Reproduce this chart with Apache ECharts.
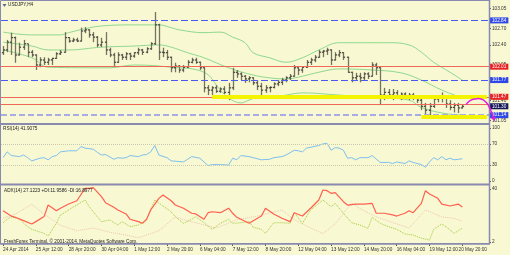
<!DOCTYPE html>
<html>
<head>
<meta charset="utf-8">
<script src="https://cdn.jsdelivr.net/npm/echarts@6.0.0/dist/echarts.min.js"></script>
<style>
html,body{margin:0;padding:0;background:#f8f8d2;}
#chart{width:510px;height:255px;}
</style>
</head>
<body>
<div id="chart"></div>
<script>
// ---------- data ----------
const opens = [102.26,102.31,102.45,102.53,102.22,102.36,102.42,102.27,102.22,102.04,
102.13,102.09,102.13,102.16,102.24,102.27,102.53,102.47,102.49,102.47,
102.65,102.67,102.58,102.54,102.40,102.45,102.31,102.22,102.09,102.22,
102.18,102.24,102.20,102.26,102.31,102.27,102.33,102.42,102.76,102.27,
102.26,102.18,101.99,102.02,101.95,102.00,102.09,102.13,102.09,101.99,
101.63,101.59,101.63,101.57,101.61,101.55,101.63,101.91,101.88,101.84,
101.79,101.81,101.72,101.66,101.59,101.63,101.64,101.70,101.73,101.77,
101.81,101.84,101.99,101.95,102.00,102.09,102.13,102.18,102.27,102.29,
102.31,102.13,102.22,102.26,102.18,101.91,101.81,101.84,101.81,101.88,
101.84,102.04,101.99,101.50,101.55,101.50,101.54,101.48,101.52,101.48,
101.50,101.46,101.41,101.30,101.23,101.30,101.43,101.45,101.46,101.34,
101.28,101.32,101.27];
const highs = [102.38,102.49,102.62,102.55,102.44,102.49,102.42,102.31,102.23,102.18,
102.18,102.17,102.17,102.27,102.31,102.63,102.54,102.53,102.53,102.71,
102.72,102.68,102.63,102.56,102.53,102.63,102.35,102.26,102.27,102.24,
102.27,102.26,102.27,102.35,102.33,102.36,102.45,102.99,102.78,102.35,
102.31,102.19,102.08,102.04,102.04,102.13,102.17,102.17,102.10,102.00,
101.68,101.66,101.68,101.64,101.66,101.72,101.99,101.95,101.91,101.86,
101.84,101.82,101.77,101.72,101.68,101.66,101.73,101.77,101.81,101.84,
101.88,102.04,102.00,102.02,102.13,102.17,102.22,102.31,102.31,102.35,
102.32,102.27,102.31,102.27,102.19,101.92,101.90,101.90,101.91,101.91,
102.09,102.08,102.00,101.63,101.61,101.61,101.59,101.55,101.55,101.54,
101.54,101.50,101.45,101.36,101.36,101.46,101.48,101.55,101.47,101.41,
101.36,101.36,101.34];
const lows = [102.22,102.27,102.22,102.08,102.21,102.31,102.18,102.18,101.95,102.00,
102.04,102.04,102.04,102.15,102.22,102.26,102.44,102.45,102.45,102.46,
102.61,102.53,102.45,102.36,102.36,102.22,102.18,102.02,102.08,102.13,
102.13,102.13,102.17,102.22,102.22,102.25,102.31,102.40,102.13,102.18,
102.13,101.91,101.91,101.90,101.91,101.99,102.07,102.06,101.95,101.55,
101.50,101.50,101.54,101.54,101.52,101.41,101.59,101.81,101.77,101.72,
101.73,101.68,101.59,101.45,101.54,101.55,101.62,101.66,101.68,101.73,
101.77,101.83,101.86,101.90,101.99,102.04,102.09,102.17,102.18,102.22,
102.04,102.12,102.18,102.13,101.90,101.73,101.77,101.73,101.77,101.79,
101.83,101.86,101.32,101.41,101.45,101.41,101.43,101.41,101.43,101.41,
101.41,101.36,101.23,101.11,101.14,101.27,101.37,101.37,101.27,101.23,
101.19,101.18,101.26];
const closes = [102.31,102.45,102.53,102.22,102.36,102.42,102.27,102.22,102.04,102.13,
102.09,102.13,102.16,102.24,102.27,102.53,102.47,102.49,102.47,102.65,
102.67,102.58,102.54,102.40,102.45,102.31,102.22,102.09,102.22,102.18,
102.24,102.20,102.26,102.31,102.27,102.33,102.42,102.76,102.27,102.26,
102.18,101.99,102.02,101.95,102.00,102.09,102.13,102.09,101.99,101.63,
101.59,101.63,101.57,101.61,101.55,101.63,101.91,101.88,101.84,101.79,
101.81,101.72,101.66,101.59,101.63,101.64,101.70,101.73,101.77,101.81,
101.84,101.99,101.95,102.00,102.09,102.13,102.18,102.27,102.29,102.31,
102.13,102.22,102.26,102.18,101.91,101.81,101.84,101.81,101.88,101.84,
102.04,101.99,101.50,101.55,101.50,101.54,101.48,101.52,101.48,101.50,
101.46,101.41,101.30,101.23,101.30,101.43,101.45,101.46,101.34,101.28,
101.32,101.27,101.30];

// Bollinger bands: [bar index, price] read at visible vertices
const upperBand = [[0,102.63],[7,102.58],[14,102.58],[16,102.62],[20,102.69],[24,102.74],[32,102.76],[38,102.76],[41,102.71],[43,102.67],[49,102.62],[53,102.63],[56,102.54],[59,102.44],[61,102.26],[65,102.17],[69,102.09],[73,102.17],[77,102.31],[82,102.44],[90,102.44],[94,102.44],[99,102.40],[102,102.27],[105,102.09],[109,101.91],[112,101.77]];
const middleBand = [[0,102.45],[7,102.38],[11,102.31],[16,102.31],[24,102.36],[32,102.38],[38,102.40],[41,102.36],[45,102.26],[49,102.17],[55,101.99],[61,101.86],[65,101.81],[69,101.79],[73,101.84],[77,101.91],[82,101.97],[90,101.95],[97,101.90],[102,101.77],[107,101.59],[112,101.45]];
const lowerBand = [[0,102.31],[7,102.17],[11,102.00],[26,101.99],[32,102.04],[41,102.00],[49,101.91],[53,101.59],[55,101.45],[58,101.36],[60,101.41],[62,101.46],[65,101.45],[69,101.50],[73,101.54],[82,101.50],[90,101.46],[99,101.41],[102,101.28],[107,101.18],[112,101.14]];

const rsi = [[0,44],[1,55],[2,48],[4,46],[5,49],[6,44],[7,38],[9,43],[10,44],[11,40],[12,46],[13,48],[14,55],[16,57],[18,57],[19,65],[20,62],[22,60],[23,54],[24,49],[25,50],[27,41],[28,44],[29,43],[30,44],[31,48],[33,46],[34,49],[35,50],[36,55],[37,67],[38,49],[40,44],[41,38],[44,36],[46,46],[48,43],[50,29],[51,31],[53,31],[55,30],[56,43],[57,40],[58,48],[60,46],[61,44],[63,40],[65,41],[66,44],[68,46],[69,49],[71,58],[72,57],[73,55],[74,62],[77,67],[78,70],[79,71],[80,58],[81,63],[82,62],[83,58],[84,43],[85,44],[86,40],[87,44],[89,44],[90,48],[92,35],[94,35],[95,33],[96,36],[98,33],[99,38],[100,35],[102,31],[103,26],[104,36],[105,44],[106,40],[107,46],[108,40],[109,43],[110,40],[111,41],[112,41.9075]];
const adx = [[0,24.4],[2,20.6],[3,19.7],[5,17.3],[7,14.9],[8,16.6],[10,20.2],[11,28.5],[13,24.4],[14,26.2],[16,29.2],[18,31.6],[20,40.5],[21,40.5],[22,41],[24,34.5],[25,30.2],[27,26.9],[28,25],[30,22.1],[31,18.3],[33,16.6],[34,15.4],[35,18.3],[36,25],[38,33.3],[39,35.7],[41,31.6],[42,28.5],[44,26.2],[46,22.6],[47,22.1],[49,18.3],[50,23],[51,23.7],[53,23],[55,26.2],[56,22.6],[57,19.7],[60,15.4],[61,17.3],[63,20.6],[64,26.2],[66,22.1],[68,19],[70,16.6],[71,23],[73,20.6],[75,26.2],[77,32.1],[78,39.3],[79,38.8],[80,36.9],[81,37.4],[83,30.9],[84,28.5],[86,29.2],[88,29.2],[90,29.7],[91,22.6],[93,22.6],[95,21.4],[96,20.6],[98,22.6],[99,24.4],[100,23],[102,29.7],[103,38.8],[104,36.4],[106,33.3],[107,29.2],[109,27.8],[111,29.2],[112,27.1223]];
const plusDI = [[0,15.8],[1,18.3],[2,20.1],[4,18.3],[6,13],[7,11.1],[10,8.2],[11,6.3],[13,15.4],[14,21.4],[15,23],[17,26.9],[18,28.5],[20,32.1],[21,27.3],[23,20.1],[24,16.6],[26,17.8],[28,14.2],[29,16.6],[31,13],[33,14.2],[35,17.8],[36,25],[37,32.1],[39,27.8],[41,23.7],[42,20.1],[44,15.4],[46,18.3],[47,20.1],[49,15.8],[51,11.1],[53,15.4],[55,18.3],[56,15.4],[58,15.8],[60,16.6],[61,12.5],[63,11.1],[64,8.2],[66,15.8],[68,15.8],[70,15.4],[71,23],[73,15.4],[75,25],[77,29.7],[78,32.1],[80,27.3],[81,29.7],[83,22.6],[85,15.8],[87,14.2],[89,11.8],[90,19.7],[92,15.4],[94,13],[96,11.1],[98,7.7],[100,7],[102,4.7],[104,3.4],[105,11.1],[107,14.9],[108,13],[110,8.2],[112,11.9586]];
const minusDI = [[0,19],[3,22],[7,29],[10,22],[14,14],[18,10],[22,12],[26,9],[30,7],[33,5],[38,10],[42,20],[44,18],[48,15],[52,12],[57,18],[61,20],[64,22],[68,25],[71,18],[75,12],[78,8],[81,15],[85,30],[87,26],[91,20],[96,15],[99,12],[103,25],[107,20],[110,19],[112,16.8977]];

const tickIdx = [0,8,16,24,32,40,48,56,64,72,80,88,96,104,112];
const tickLabels = ['24 Apr 2014','25 Apr 12:00','28 Apr 20:00','30 Apr 04:00','1 May 12:00','2 May 20:00','6 May 04:00','7 May 12:00','8 May 20:00','12 May 04:00','13 May 12:00','14 May 20:00','16 May 04:00','19 May 12:00','20 May 20:00'];
const priceTicks = [101.05,101.40,101.75,102.05,102.40,102.70,103.05];
const rsiTicks = [0,30,70,100];
const adxTicks = [2,40];

const blueLevels = [102.84,101.77];
const redLevels = [102.01,101.47];
const redPlainLevels = [101.34];
const lavenderLevels = [101.14];
const bidLevel = [101.30];
const yellowZones = [[51,101.47],[102,101.12]];
const arrowPath = [[112.9,101.33],[113.9,101.40],[115.1,101.43],[116.6,101.43],[117.8,101.37],[118.8,101.25],[119.5,101.11],[119.9,101.03]];

// ---------- chart ----------
const TOTAL = 119;
const FONT = 'Liberation Sans';
const FS = 4.7;
const BG = '#f8f8d2';
const cats = Array.from({length: TOTAL}, (_, i) => String(i));
const labelMap = {};
tickIdx.forEach((t, k) => { labelMap[t] = tickLabels[k]; });
const labelShow = new Set(tickIdx.slice(0, -1));
labelShow.add(TOTAL - 1);
const tickSet = new Set(tickIdx);
const catsBottom = cats.map((c, i) => i === TOTAL - 1 ? {value: c, textStyle: {align: 'right'}} : c);

const chart = echarts.init(document.getElementById('chart'), null, {renderer: 'canvas'});

function hidden(gi) {
  return {type: 'category', gridIndex: gi, data: cats, boundaryGap: true,
    axisLine: {show: false}, axisTick: {show: false}, axisLabel: {show: false}, splitLine: {show: false}};
}
function yAx(gi, min, max, ticks, fmt) {
  return {type: 'value', gridIndex: gi, position: 'right', min: min, max: max, scale: true,
    axisLine: {show: false}, splitLine: {show: false},
    axisTick: {show: true, customValues: ticks, length: 2, lineStyle: {color: '#555'}},
    axisLabel: {show: true, customValues: ticks, formatter: fmt, fontSize: FS, color: '#333', margin: 3, fontFamily: FONT}};
}

const ohlc = opens.map((o, i) => [i, o, closes[i], lows[i], highs[i]]);

function hLine(v, color, type, width, labelBg) {
  const d = {yAxis: v, lineStyle: {color: color, type: type, width: width}};
  if (labelBg) {
    d.label = {show: true, position: 'end', distance: 1, formatter: v.toFixed(2), color: '#fff',
      backgroundColor: labelBg, padding: [1, 2, 0, 2], fontSize: FS, fontFamily: FONT};
  } else {
    d.label = {show: false};
  }
  return d;
}
const markData = [];
blueLevels.forEach(v => markData.push(hLine(v, '#4a5cf0', [7, 3], 1, '#2f47e6')));
redLevels.forEach(v => markData.push(hLine(v, '#f06858', 'solid', 1, '#e82222')));
redPlainLevels.forEach(v => markData.push(hLine(v, '#f06858', 'solid', 1, null)));
lavenderLevels.forEach(v => markData.push(hLine(v, '#aaaae4', [6, 3], 2, '#2f47e6')));
bidLevel.forEach(v => markData.push(hLine(v, 'rgba(0,0,0,0)', 'solid', 0, '#16165a')));
yellowZones.forEach(([s, v]) => markData.push([
  {coord: [s, v], lineStyle: {color: '#f4f400', width: 4, type: 'solid'}, label: {show: false}},
  {coord: [TOTAL - 1, v]}
]));

const option = {
  animation: false,
  backgroundColor: BG,
  textStyle: {fontFamily: FONT},
  grid: [
    {left: 1, right: 21, top: 2, height: 121},
    {left: 1, right: 21, top: 128, height: 53},
    {left: 1, right: 21, top: 186, height: 57}
  ],
  xAxis: [hidden(0), hidden(1), {
    type: 'category', gridIndex: 2, data: catsBottom, boundaryGap: true,
    axisLine: {show: false}, splitLine: {show: false},
    axisTick: {show: true, interval: (i) => tickSet.has(i), alignWithLabel: true, length: 3, lineStyle: {color: '#555'}},
    axisLabel: {show: true, interval: (i) => labelShow.has(i), align: 'left', fontSize: FS, color: '#333', margin: 4, fontFamily: FONT,
      formatter: (v, i) => (i === TOTAL - 1 ? tickLabels[tickLabels.length - 1] : (labelMap[i] || ''))}
  }],
  yAxis: [
    yAx(0, 101.00, 103.17, priceTicks, v => v.toFixed(2)),
    yAx(1, 0, 100, rsiTicks, v => String(v)),
    yAx(2, 1.28, 42.15, adxTicks, v => String(v))
  ],
  series: [
    {type: 'line', name: 'upper', xAxisIndex: 0, yAxisIndex: 0, data: upperBand, showSymbol: false, smooth: 0.4,
      lineStyle: {color: '#8fd88f', width: 1}, z: 2},
    {type: 'line', name: 'lower', xAxisIndex: 0, yAxisIndex: 0, data: lowerBand, showSymbol: false, smooth: 0.4,
      lineStyle: {color: '#8fd88f', width: 1}, z: 2},
    {type: 'line', name: 'middle', xAxisIndex: 0, yAxisIndex: 0, data: middleBand, showSymbol: false, smooth: 0.4,
      lineStyle: {color: '#8fd88f', width: 1}, z: 2},
    {type: 'custom', name: 'USDJPY', xAxisIndex: 0, yAxisIndex: 0, data: ohlc, encode: {x: 0, y: [1, 2, 3, 4]}, z: 3,
      renderItem: function (params, api) {
        const i = api.value(0);
        const o = api.coord([i, api.value(1)]);
        const c = api.coord([i, api.value(2)]);
        const l = api.coord([i, api.value(3)]);
        const h = api.coord([i, api.value(4)]);
        const x = Math.round(o[0]) + 0.5;
        return {type: 'group', children: [
          {type: 'line', shape: {x1: x, y1: h[1], x2: x, y2: l[1]}, style: {stroke: '#74745f', lineWidth: 1.3}},
          {type: 'line', shape: {x1: x - 1.6, y1: o[1], x2: x, y2: o[1]}, style: {stroke: '#222', lineWidth: 1}},
          {type: 'line', shape: {x1: x, y1: c[1], x2: x + 1.6, y2: c[1]}, style: {stroke: '#222', lineWidth: 1}}
        ]};
      },
      markLine: {silent: true, symbol: ['none', 'none'], data: markData, z: 4}
    },
    {type: 'line', name: 'RSI', xAxisIndex: 1, yAxisIndex: 1, data: rsi, showSymbol: false,
      lineStyle: {color: '#7ec0ee', width: 1},
      markLine: {silent: true, symbol: ['none', 'none'], label: {show: false},
        lineStyle: {color: '#c9c9b2', type: 'dotted', width: 1},
        data: [{yAxis: rsiTicks[2]}, {yAxis: rsiTicks[1]}]}},
    {type: 'line', name: '-DI', xAxisIndex: 2, yAxisIndex: 2, data: minusDI, showSymbol: false,
      lineStyle: {color: '#f0c6b6', width: 1, type: 'dotted'}},
    {type: 'line', name: '+DI', xAxisIndex: 2, yAxisIndex: 2, data: plusDI, showSymbol: false,
      lineStyle: {color: '#a2cc3a', width: 1, type: 'dotted'}},
    {type: 'line', name: 'ADX', xAxisIndex: 2, yAxisIndex: 2, data: adx, showSymbol: false,
      lineStyle: {color: '#ff5f4f', width: 1.2}}
  ]
};
chart.setOption(option);

// decorations and annotation arrow
const sep = '#8a8ab0';
const gfx = [
  {type: 'rect', shape: {x: 0.5, y: 0.5, width: 489, height: 243}, style: {fill: 'none', stroke: sep, lineWidth: 1}, silent: true, z: 50},
  {type: 'line', shape: {x1: 0, y1: 124, x2: 490, y2: 124}, style: {stroke: sep, lineWidth: 2}, silent: true, z: 50},
  {type: 'line', shape: {x1: 0, y1: 184.5, x2: 490, y2: 184.5}, style: {stroke: sep, lineWidth: 2}, silent: true, z: 50},
  {type: 'line', shape: {x1: 0, y1: 244, x2: 490, y2: 244}, style: {stroke: sep, lineWidth: 1.5}, silent: true, z: 50},
  {type: 'line', shape: {x1: 489.5, y1: 0, x2: 489.5, y2: 244}, style: {stroke: sep, lineWidth: 1.5}, silent: true, z: 50},
  {type: 'text', x: 8, y: 2.5, style: {text: 'USDJPY,H4', fontSize: FS, fill: '#222', fontFamily: FONT}, z: 60},
  {type: 'polygon', shape: {points: [[2.5, 4], [6.5, 4], [4.5, 7]]}, style: {fill: '#5a6a9a'}, z: 60},
  {type: 'text', x: 3, y: 126, style: {text: 'RSI(14) 41.9075', fontSize: FS, fill: '#222', fontFamily: FONT}, z: 60},
  {type: 'text', x: 4, y: 188, style: {text: 'ADX(14) 27.1223 +DI:11.9586 -DI:16.8977', fontSize: FS, fill: '#222', fontFamily: FONT}, z: 60},
  {type: 'text', x: 4, y: 239, style: {text: 'FreshForex Terminal, \u00a9 2001-2014, MetaQuotes Software Corp.', fontSize: FS, fill: '#222', fontFamily: FONT}, z: 60}
];
const p0 = chart.convertToPixel({xAxisIndex: 0, yAxisIndex: 0}, [0, 101.3]);
const p1 = chart.convertToPixel({xAxisIndex: 0, yAxisIndex: 0}, [1, 101.3]);
const dx = p1[0] - p0[0];
const pts = arrowPath.map(([i, v]) => [p0[0] + i * dx, chart.convertToPixel({xAxisIndex: 0, yAxisIndex: 0}, [0, v])[1]]);
gfx.push({type: 'polyline', shape: {points: pts.slice(0, -1), smooth: 0.5}, style: {stroke: '#e020e0', lineWidth: 1.5, fill: 'none'}, z: 70});
const tip = pts[pts.length - 1], prev = pts[pts.length - 2];
const ang = Math.atan2(tip[1] - prev[1], tip[0] - prev[0]);
const L = 4.5, W = 2.6;
const bx = tip[0] - L * Math.cos(ang), by = tip[1] - L * Math.sin(ang);
gfx.push({type: 'polygon', shape: {points: [tip, [bx + W * Math.sin(ang), by - W * Math.cos(ang)], [bx - W * Math.sin(ang), by + W * Math.cos(ang)]]},
  style: {fill: '#e020e0'}, z: 70});
chart.setOption({graphic: gfx});
</script>
</body>
</html>
